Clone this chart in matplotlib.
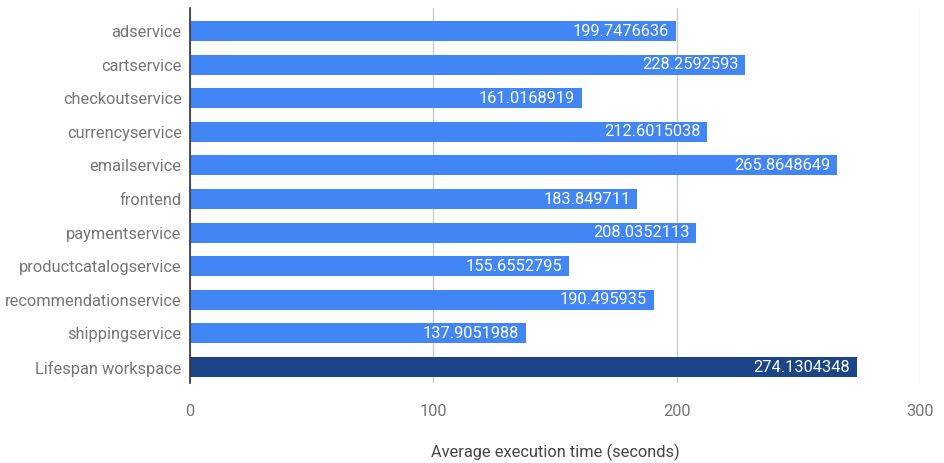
import matplotlib
matplotlib.use("Agg")
import matplotlib.pyplot as plt

plt.rcParams["font.family"] = ["Roboto", "DejaVu Sans"]

# -------------------------------
# Data
# -------------------------------
services = [
    "adservice",
    "cartservice",
    "checkoutservice",
    "currencyservice",
    "emailservice",
    "frontend",
    "paymentservice",
    "productcatalogservice",
    "recommendationservice",
    "shippingservice",
    "Lifespan workspace",
]
avg_times = [
    199.7476636,
    228.2592593,
    161.0168919,
    212.6015038,
    265.8648649,
    183.849711,
    208.0352113,
    155.6552795,
    190.495935,
    137.9051988,
    274.1304348,
]
value_labels = [
    "199.7476636",
    "228.2592593",
    "161.0168919",
    "212.6015038",
    "265.8648649",
    "183.849711",
    "208.0352113",
    "155.6552795",
    "190.495935",
    "137.9051988",
    "274.1304348",
]
x_ticks = [0, 100, 200, 300]

W, H = 944, 463
fig = plt.figure(figsize=(W / 100, H / 100), dpi=100)
ax = fig.add_axes([190 / W, 1 - 383 / H, (920 - 190) / W, (383 - 8) / H])

colors = ["#4285f4"] * (len(services) - 1) + ["#1c4587"]
ypos = list(range(len(services)))
ax.barh(ypos, avg_times, height=0.6, color=colors, zorder=2)

fs = 11.8
for y, v, lab in zip(ypos, avg_times, value_labels):
    ax.text(v - 2.8, y, lab, ha="right", va="center", color="white",
            fontsize=fs, zorder=3)

ax.set_xlim(0, 300)
ax.set_ylim(10.476, -0.685)
ax.set_yticks(ypos)
ax.set_yticklabels(services, fontsize=fs, color="#757575")
ax.set_xticks(x_ticks)
ax.set_xticklabels([str(t) for t in x_ticks], fontsize=fs, color="#757575")
ax.tick_params(axis="both", length=0)
ax.tick_params(axis="y", pad=6)
ax.tick_params(axis="x", pad=15)

ax.grid(axis="x", color="#cccccc", linewidth=1, zorder=0)
for side in ["top", "right", "bottom"]:
    ax.spines[side].set_visible(False)
ax.spines["left"].set_color("#333333")
ax.spines["left"].set_linewidth(1.2)
ax.spines["left"].set_zorder(4)

ax.set_xlabel("Average execution time (seconds)", fontsize=fs,
              color="#444444", labelpad=18)

fig.savefig("out.png", dpi=100)
